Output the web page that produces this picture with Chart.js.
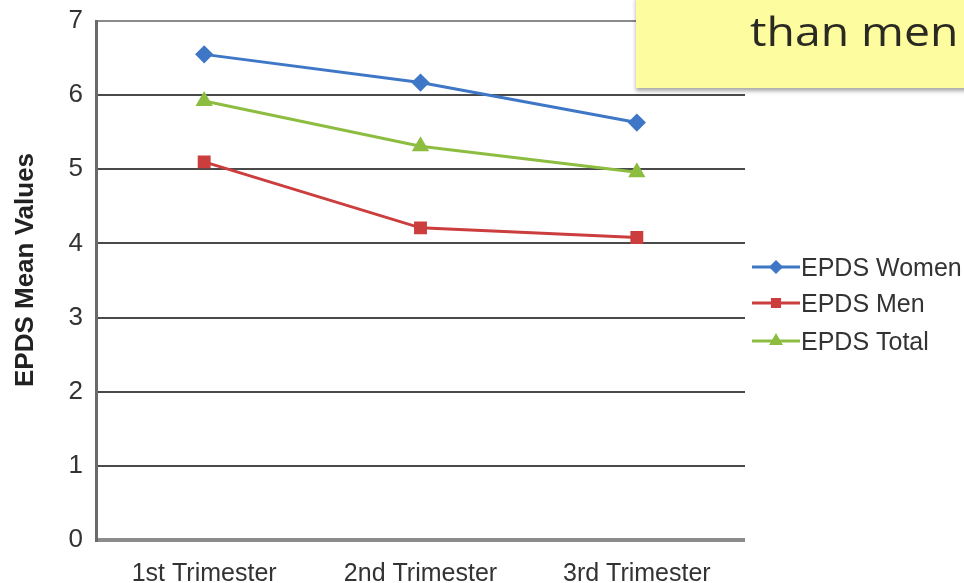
<!DOCTYPE html>
<html>
<head>
<meta charset="utf-8">
<script src="https://cdn.jsdelivr.net/npm/chart.js@4/dist/chart.umd.min.js"></script>
<style>
  html, body { margin: 0; padding: 0; background: #fff; }
  #wrap { position: relative; width: 964px; height: 583px; overflow: hidden; }
  #chart { position: absolute; left: 0; top: 0; }
  #note {
    position: absolute; left: 636px; top: -4px; width: 340px; height: 92px;
    background: #fdfc9e; box-shadow: 0 3px 4px rgba(0,0,0,0.35);
  }
  #note span {
    position: absolute; left: 114px; top: 6px;
    font-family: "Open Sans", sans-serif; font-size: 41px; color: #2a2a22;
    display: inline-block; transform: scaleX(1.13); transform-origin: 0 0;
    white-space: nowrap;
  }
</style>
</head>
<body>
<div id="wrap">
  <canvas id="chart" width="964" height="583"></canvas>
  <div id="note"><span>than men</span></div>
</div>
<script>
const trimesters = ['1st Trimester', '2nd Trimester', '3rd Trimester'];
const epdsWomen = [6.55, 6.17, 5.63];
const epdsMen = [5.10, 4.21, 4.08];
const epdsTotal = [5.92, 5.31, 4.96];
const seriesNames = ['EPDS Women', 'EPDS Men', 'EPDS Total'];
const yTicks = [0, 1, 2, 3, 4, 5, 6, 7];
const yTitle = 'EPDS Mean Values';

const colors = ['#3f77c7', '#cc3d3d', '#8dbd40'];
const markers = ['rectRot', 'rect', 'triangle'];
const radii = [7, 7, 7];
const FONT = '"Liberation Sans", Arial, sans-serif';

// Legend drawn at the right: short line with the series marker, then its name
const sideLegend = {
  id: 'sideLegend',
  afterDraw(chart) {
    const ctx = chart.ctx;
    const x0 = 752, rows = [267, 303, 341];
    chart.data.datasets.forEach((ds, i) => {
      const y = rows[i];
      ctx.save();
      ctx.strokeStyle = ds.borderColor;
      ctx.lineWidth = 3;
      ctx.beginPath();
      ctx.moveTo(x0, y);
      ctx.lineTo(x0 + 48, y);
      ctx.stroke();
      ctx.fillStyle = ds.borderColor;
      Chart.helpers.drawPoint(ctx, { pointStyle: ds.pointStyle, radius: 5, borderWidth: 1 }, x0 + 24, y);
      ctx.fillStyle = '#333';
      ctx.font = '25px ' + FONT;
      ctx.textBaseline = 'middle';
      ctx.textAlign = 'left';
      ctx.fillText(ds.label, x0 + 49, y + 2);
      ctx.restore();
    });
  }
};

// Rotated y-axis title, placed a little above the plot's vertical centre
const sideTitle = {
  id: 'sideTitle',
  afterDraw(chart) {
    const ctx = chart.ctx;
    ctx.save();
    ctx.translate(26, 270);
    ctx.rotate(-Math.PI / 2);
    ctx.fillStyle = '#222';
    ctx.font = 'bold 26px ' + FONT;
    ctx.textAlign = 'center';
    ctx.textBaseline = 'middle';
    ctx.fillText(yTitle, 0, 0);
    ctx.restore();
  }
};

const gridColor = (ctx) => {
  const v = ctx.tick ? ctx.tick.value : null;
  if (v === 0) return '#8c8c8c';
  if (v === 7) return '#8a8a8a';
  return '#4a4a4a';
};

new Chart(document.getElementById('chart'), {
  type: 'line',
  data: {
    labels: trimesters,
    datasets: [epdsWomen, epdsMen, epdsTotal].map((vals, i) => ({
      label: seriesNames[i],
      data: vals,
      borderColor: colors[i],
      backgroundColor: colors[i],
      pointBackgroundColor: colors[i],
      pointBorderColor: colors[i],
      pointStyle: markers[i],
      pointRadius: radii[i],
      borderWidth: 3,
      tension: 0
    }))
  },
  options: {
    responsive: false,
    animation: false,
    layout: { padding: { left: 0, right: 219, top: 21, bottom: 0 } },
    plugins: {
      legend: { display: false },
      tooltip: { enabled: false }
    },
    scales: {
      x: {
        offset: true,
        grid: { display: false, drawTicks: false },
        border: { display: false },
        ticks: {
          color: '#333',
          font: { family: FONT, size: 25 },
          padding: 19
        },
        afterFit: (s) => { s.height = 43; }
      },
      y: {
        min: 0, max: 7,
        afterBuildTicks: (s) => { s.ticks = yTicks.map(v => ({ value: v })); },
        grid: {
          color: gridColor,
          lineWidth: (c) => (c.tick && c.tick.value === 0 ? 4 : 2),
          drawTicks: false
        },
        border: { display: true, color: '#6a6a6a', width: 3 },
        ticks: {
          color: '#333',
          font: { family: FONT, size: 26 },
          padding: 13
        },
        title: { display: false },
        afterFit: (s) => {
          s.width = 96;
          s.paddingTop = 0;
          s.paddingBottom = 0;
        }
      }
    }
  },
  plugins: [sideLegend, sideTitle]
});
</script>
</body>
</html>
